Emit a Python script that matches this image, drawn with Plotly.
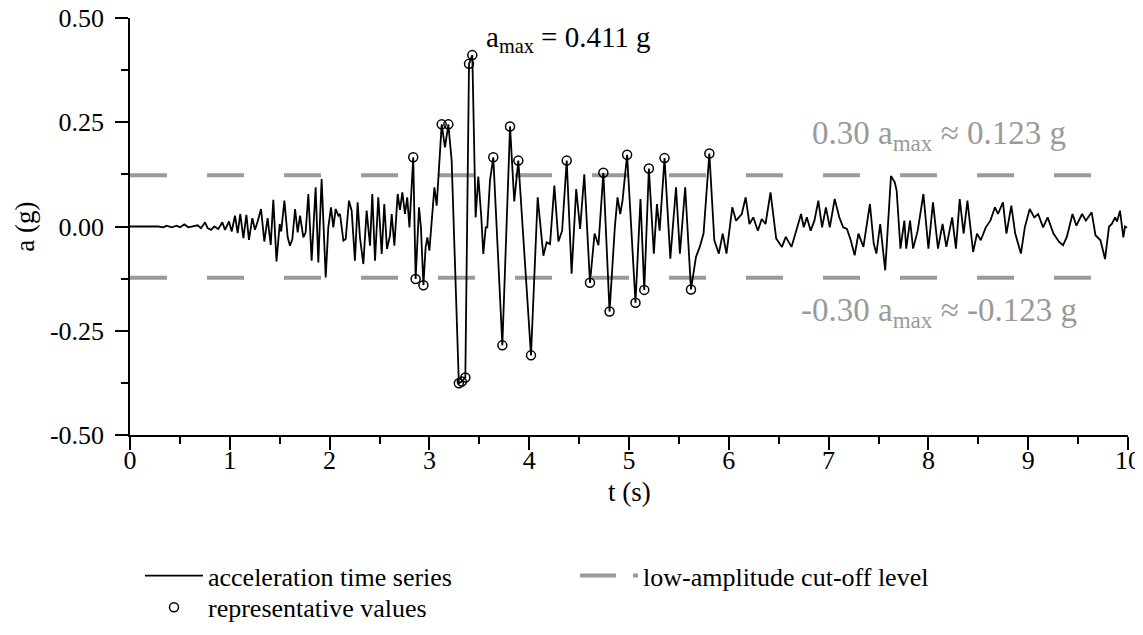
import plotly.graph_objects as go

# ---------------- data ----------------
t_s = [0.000, 0.100, 0.200, 0.284, 0.334, 0.367, 0.418, 0.468, 0.501, 0.544, 0.585, 0.635, 0.678, 0.711,
       0.752, 0.778, 0.812, 0.845, 0.885, 0.925, 0.952, 0.992, 1.019, 1.052, 1.079, 1.105, 1.136, 1.166,
       1.192, 1.226, 1.252, 1.279, 1.313, 1.346, 1.379, 1.410, 1.436, 1.468, 1.500, 1.515, 1.547, 1.580,
       1.603, 1.627, 1.654, 1.680, 1.704, 1.737, 1.760, 1.787, 1.820, 1.860, 1.887, 1.920, 1.961, 1.987,
       2.014, 2.037, 2.061, 2.088, 2.104, 2.138, 2.161, 2.194, 2.221, 2.254, 2.281, 2.304, 2.338, 2.371,
       2.405, 2.428, 2.455, 2.488, 2.522, 2.548, 2.575, 2.605, 2.622, 2.649, 2.682, 2.705, 2.729, 2.755,
       2.778, 2.800, 2.838, 2.862, 2.896, 2.915, 2.940, 2.962, 2.980, 3.000, 3.023, 3.050, 3.073, 3.090,
       3.123, 3.156, 3.190, 3.223, 3.256, 3.295, 3.325, 3.360, 3.397, 3.430, 3.463, 3.490, 3.520, 3.540,
       3.564, 3.580, 3.607, 3.640, 3.731, 3.808, 3.850, 3.891, 4.018, 4.085, 4.142, 4.175, 4.209, 4.252,
       4.293, 4.330, 4.376, 4.425, 4.471, 4.510, 4.552, 4.609, 4.655, 4.694, 4.743, 4.805, 4.858, 4.885,
       4.912, 4.935, 4.981, 5.065, 5.115, 5.153, 5.199, 5.249, 5.280, 5.307, 5.356, 5.414, 5.471, 5.510,
       5.563, 5.621, 5.671, 5.709, 5.747, 5.805, 5.855, 5.900, 5.939, 5.977, 6.035, 6.073, 6.130, 6.169,
       6.207, 6.245, 6.291, 6.330, 6.368, 6.418, 6.475, 6.533, 6.571, 6.628, 6.686, 6.724, 6.751, 6.782,
       6.820, 6.858, 6.897, 6.935, 6.973, 7.012, 7.061, 7.107, 7.146, 7.184, 7.222, 7.261, 7.299, 7.349,
       7.414, 7.452, 7.479, 7.517, 7.567, 7.625, 7.663, 7.682, 7.720, 7.759, 7.778, 7.816, 7.847, 7.893,
       7.950, 8.000, 8.046, 8.096, 8.142, 8.180, 8.238, 8.276, 8.314, 8.353, 8.391, 8.448, 8.487, 8.525,
       8.575, 8.621, 8.667, 8.697, 8.747, 8.782, 8.831, 8.870, 8.927, 8.966, 9.015, 9.061, 9.100, 9.149,
       9.195, 9.253, 9.310, 9.349, 9.387, 9.444, 9.483, 9.540, 9.578, 9.636, 9.674, 9.724, 9.770, 9.810,
       9.838, 9.871, 9.890, 9.920, 9.953, 9.970, 9.990]

a_g = [0.000, 0.000, 0.001, 0.000, -0.002, 0.002, -0.002, 0.002, -0.002, 0.005, -0.002, 0.001, 0.003, -0.004,
       0.010, -0.004, -0.008, 0.000, -0.006, 0.010, -0.008, 0.012, -0.012, 0.026, -0.016, 0.030, -0.028, 0.028,
       -0.032, 0.020, -0.008, 0.012, 0.042, -0.036, 0.020, -0.044, 0.064, -0.084, 0.006, -0.012, 0.062, -0.026,
       -0.046, -0.030, 0.042, -0.014, 0.026, -0.026, -0.014, 0.078, -0.082, 0.094, -0.086, 0.114, -0.122, -0.002,
       0.046, -0.002, 0.042, 0.026, 0.030, -0.034, -0.030, 0.062, 0.038, -0.082, 0.058, -0.026, -0.090, 0.038,
       -0.046, 0.078, -0.082, 0.070, -0.066, 0.054, -0.054, -0.022, 0.030, -0.046, 0.078, 0.040, 0.082, 0.030,
       0.070, -0.002, 0.166, -0.126, 0.046, -0.002, -0.141, -0.050, -0.026, -0.058, 0.022, 0.094, 0.050, 0.118,
       0.245, 0.190, 0.245, 0.158, -0.066, -0.376, -0.372, -0.362, 0.390, 0.411, 0.022, 0.120, 0.022, -0.066,
       -0.002, -0.002, 0.110, 0.166, -0.285, 0.240, 0.060, 0.158, -0.309, 0.070, -0.070, -0.038, -0.042, 0.098,
       -0.036, -0.010, 0.158, -0.113, 0.090, -0.006, 0.125, -0.135, -0.017, -0.045, 0.129, -0.204, -0.002, 0.070,
       0.030, 0.062, 0.172, -0.183, 0.066, -0.152, 0.139, -0.065, 0.054, -0.010, 0.164, -0.077, 0.094, -0.065,
       0.094, -0.151, -0.073, -0.049, -0.017, 0.175, -0.033, -0.065, -0.017, -0.065, 0.046, 0.014, 0.030, 0.070,
       0.006, 0.022, -0.010, 0.018, 0.006, 0.082, -0.029, -0.049, -0.025, -0.049, -0.002, 0.030, -0.002, 0.022,
       -0.010, 0.014, 0.062, -0.002, 0.046, -0.002, 0.066, 0.022, -0.002, -0.006, -0.033, -0.069, -0.017, -0.049,
       0.054, -0.041, -0.065, 0.006, -0.105, 0.121, 0.106, 0.086, -0.053, 0.014, -0.053, 0.014, -0.053, -0.010,
       0.078, -0.053, 0.058, -0.053, 0.006, -0.049, 0.022, -0.053, 0.066, -0.017, 0.062, -0.061, -0.017, -0.033,
       -0.002, 0.014, 0.046, 0.030, 0.058, -0.017, 0.050, -0.017, -0.065, -0.002, 0.042, 0.022, 0.030, -0.002,
       0.022, -0.017, -0.037, -0.045, -0.025, 0.030, 0.002, 0.030, 0.014, 0.034, -0.021, -0.033, -0.078, 0.000,
       0.006, 0.022, 0.012, 0.038, -0.026, 0.000, -0.003]

rep_t = [2.838, 2.862, 2.940, 3.123, 3.190, 3.295, 3.325, 3.360, 3.397, 3.430, 3.640, 3.731, 3.808,
         3.891, 4.018, 4.376, 4.609, 4.743, 4.805, 4.981, 5.065, 5.153, 5.199, 5.356, 5.621, 5.805]
rep_a = [0.166, -0.126, -0.141, 0.245, 0.245, -0.376, -0.372, -0.362, 0.390, 0.411, 0.166, -0.285, 0.240,
         0.158, -0.309, 0.158, -0.135, 0.129, -0.204, 0.172, -0.183, -0.152, 0.139, 0.164, -0.151, 0.175]

a_max = 0.411
cutoff = 0.123
t_range = [0, 10]

x_tick_vals = [0, 1, 2, 3, 4, 5, 6, 7, 8, 9, 10]
x_tick_text = ["0", "1", "2", "3", "4", "5", "6", "7", "8", "9", "10"]
y_tick_vals = [0.50, 0.25, 0.00, -0.25, -0.50]
y_tick_text = ["0.50", "0.25", "0.00", "-0.25", "-0.50"]

# ---------------- figure ----------------
FONT = "Liberation Serif"
GRAY = "#9a9a9a"

fig = go.Figure()

# cut-off lines
fig.add_trace(go.Scatter(
    x=[t_range[0], t_range[1], None, t_range[0], t_range[1]],
    y=[cutoff, cutoff, None, -cutoff, -cutoff],
    mode="lines", line=dict(color=GRAY, width=4, dash="37px,40px"),
    showlegend=False, hoverinfo="skip"))

# time series
fig.add_trace(go.Scatter(
    x=t_s, y=a_g, mode="lines", name="acceleration time series",
    line=dict(color="black", width=1.8), legend="legend"))

# legend-only entry for cut-off
fig.add_trace(go.Scatter(
    x=[None], y=[None], mode="lines", name="low-amplitude cut-off level",
    line=dict(color=GRAY, width=4, dash="36px,17px"), legend="legend"))

# representative values
fig.add_trace(go.Scatter(
    x=rep_t, y=rep_a, mode="markers", name="representative values",
    marker=dict(symbol="circle-open", size=9, color="black", line=dict(width=1.5, color="black")),
    legend="legend2"))

axis_common = dict(
    showgrid=False, zeroline=False, showline=True, linecolor="black", linewidth=1.5,
    ticks="outside", tickwidth=1.5, tickcolor="black", ticklen=13,
    tickfont=dict(family=FONT, size=26, color="black"),
    minor=dict(ticks="outside", ticklen=7, tickwidth=1.5, tickcolor="black"),
    ticklabeloverflow="allow",
)

fig.update_xaxes(range=t_range, tickvals=x_tick_vals, ticktext=x_tick_text,
                 minor_dtick=0.5, minor_tick0=0, ticklabelstandoff=-12, **axis_common)
fig.update_yaxes(range=[-0.5, 0.5], tickvals=y_tick_vals, ticktext=y_tick_text,
                 minor_dtick=0.125, minor_tick0=0, ticklabelstandoff=6, **axis_common)

fig.add_annotation(text="a (g)", xref="paper", yref="paper", x=-0.106, y=0.5,
                   textangle=-90, showarrow=False, xanchor="center", yanchor="middle",
                   font=dict(family=FONT, size=27, color="black"))
fig.add_annotation(text="t (s)", xref="paper", yref="paper", x=0.5, y=-0.137,
                   showarrow=False, xanchor="center", yanchor="middle",
                   font=dict(family=FONT, size=27, color="black"))

fig.add_annotation(text="a<sub>max</sub> = %.3f g" % a_max, x=3.55, y=0.45,
                   showarrow=False, xanchor="left", yanchor="middle",
                   font=dict(family=FONT, size=29, color="black"))
fig.add_annotation(text="0.30 a<sub>max</sub> ≈ %.3f g" % cutoff, x=6.81, y=0.218,
                   showarrow=False, xanchor="left", yanchor="middle",
                   font=dict(family=FONT, size=33, color=GRAY))
fig.add_annotation(text="-0.30 a<sub>max</sub> ≈ -%.3f g" % cutoff, x=6.7, y=-0.206,
                   showarrow=False, xanchor="left", yanchor="middle",
                   font=dict(family=FONT, size=33, color=GRAY))

# page body has an 8 px margin: figure is 8 px smaller and margins shifted accordingly
fig.update_layout(
    width=1135, height=627,
    margin=dict(l=122, r=15, t=10, b=200, autoexpand=False),
    paper_bgcolor="white", plot_bgcolor="white",
    font=dict(family=FONT, color="black"),
    legend=dict(orientation="h", x=0.01, xanchor="left", y=-0.281, yanchor="top",
                itemwidth=58, entrywidth=362, font=dict(family=FONT, size=26, color="black"),
                bgcolor="rgba(0,0,0,0)"),
    legend2=dict(orientation="h", x=0.01, xanchor="left", y=-0.357, yanchor="top",
                 itemwidth=58, font=dict(family=FONT, size=26, color="black"),
                 bgcolor="rgba(0,0,0,0)"),
)

fig.write_html("out.html")
